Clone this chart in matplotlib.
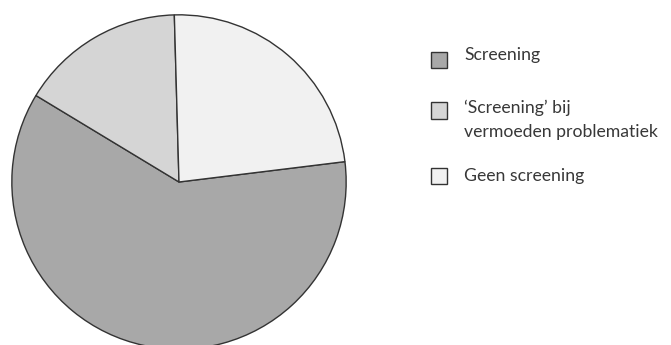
import matplotlib
matplotlib.use("Agg")
import matplotlib.pyplot as plt
from matplotlib.patches import Rectangle

labels = ["Screening", "\u2018Screening\u2019 bij\nvermoeden problematiek", "Geen screening"]
values = [60.6, 15.9, 23.5]
colors = ["#a8a8a8", "#d5d5d5", "#f1f1f1"]

W, H = 671, 345
fig = plt.figure(figsize=(W / 100, H / 100), dpi=100)

cx, cy, r = 179, 182, 168
ax = fig.add_axes([(cx - r) / W, (H - cy - r) / H, 2 * r / W, 2 * r / H])
ax.pie(values, colors=colors, startangle=7, counterclock=False, radius=1,
       wedgeprops=dict(edgecolor="#333333", linewidth=1.0))
ax.set_xlim(-1.005, 1.005)
ax.set_ylim(-1.005, 1.005)
ax.set_axis_off()

# legend
box_x, box_w = 431, 16
text_x = 464
box_centers = [60, 110.5, 175.5]
baselines = [60, 113, 181]
line_gap = 24
for lab, col, yc, yb in zip(labels, colors, box_centers, baselines):
    fig.patches.append(Rectangle((box_x / W, (H - yc - box_w / 2) / H), box_w / W, box_w / H,
                                 transform=fig.transFigure, facecolor=col,
                                 edgecolor="#333333", linewidth=1.0))
    for i, line in enumerate(lab.split("\n")):
        fig.text(text_x / W, (H - yb - i * line_gap) / H, line, ha="left", va="baseline",
                 fontsize=12.7, family="Lato", color="#383838")

fig.savefig("out.png", dpi=100)
